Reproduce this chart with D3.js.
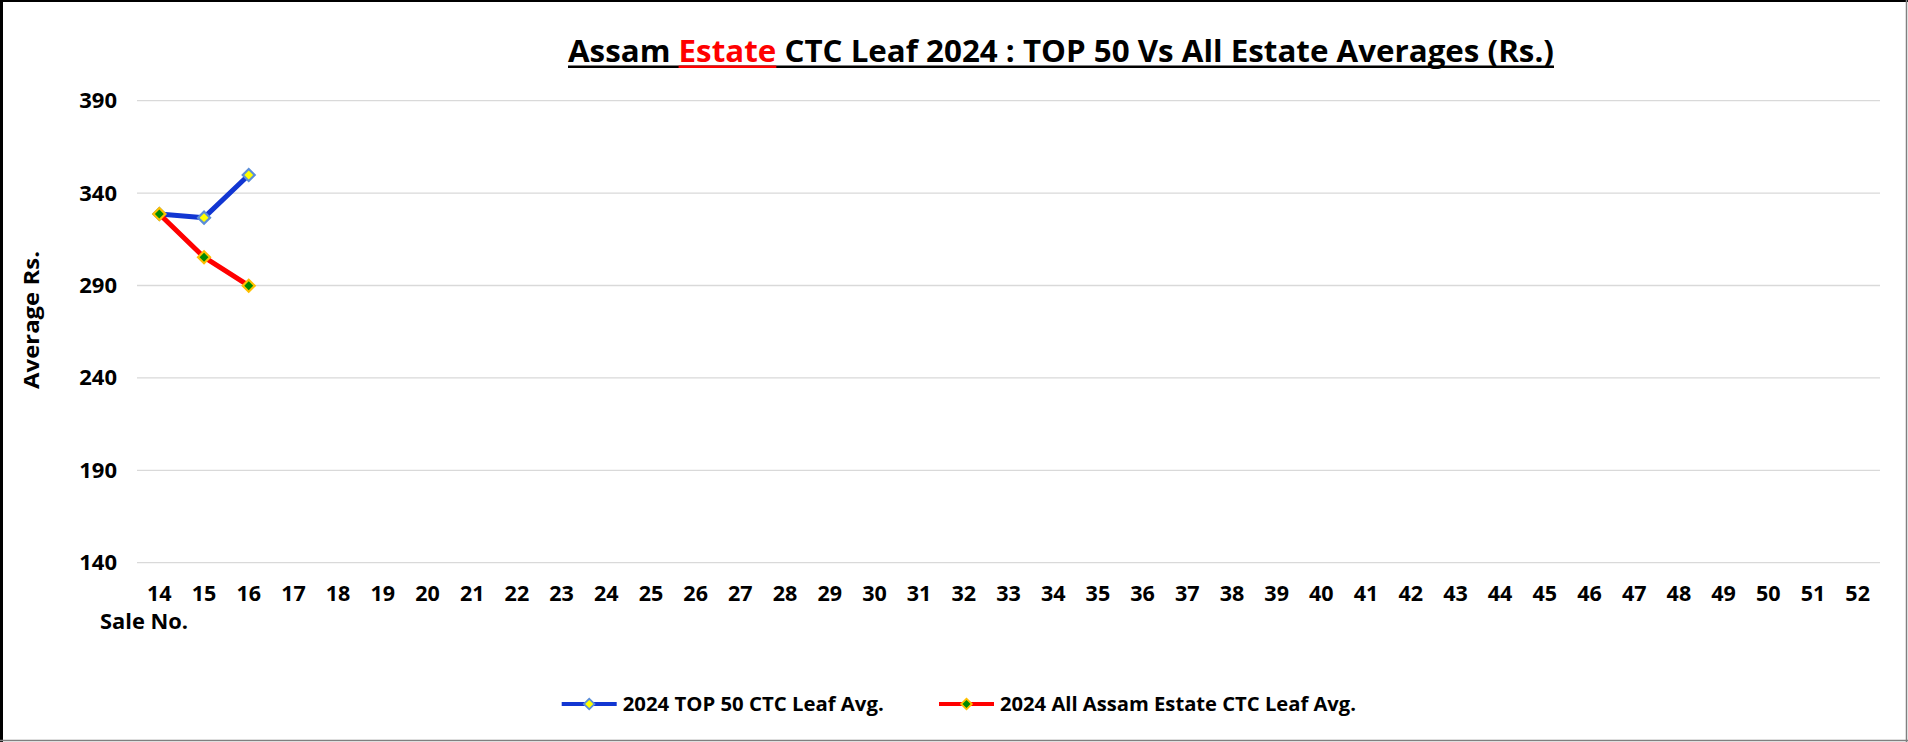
<!DOCTYPE html>
<html>
<head>
<meta charset="utf-8">
<script src="https://cdn.jsdelivr.net/npm/d3@7"></script>
<style>
  body { margin: 0; background: #fff; }
  svg { display: block; }
  text { font-family: "Open Sans", sans-serif; font-weight: 700; fill: #000; }
</style>
</head>
<body>
<div id="viz"></div>
<script>
"use strict";

// sale numbers on the x axis
const saleNos = ["14", "15", "16", "17", "18", "19", "20", "21", "22", "23", "24", "25", "26",
  "27", "28", "29", "30", "31", "32", "33", "34", "35", "36", "37", "38", "39",
  "40", "41", "42", "43", "44", "45", "46", "47", "48", "49", "50", "51", "52"];
const yTicks = [140, 190, 240, 290, 340, 390];

// averages (Rs.), sales 14-16
const top50Avg = [328.7, 326.7, 349.8];
const allEstateAvg = [328.7, 305.3, 289.9];

const seriesNames = ["2024 TOP 50 CTC Leaf Avg.", "2024 All Assam Estate CTC Leaf Avg."];

const w = 1908;
const h = 742;

const svg = d3.select("#viz")
  .append("svg")
  .attr("width", w)
  .attr("height", h)

svg.append("rect")
  .attr("width", w)
  .attr("height", h)
  .attr("fill", "#fff")

const x = d3.scaleBand()
  .domain(saleNos)
  .range([137, 1880])

const y = d3.scaleLinear()
  .domain([140, 390])
  .range([562.7, 100.7])

const series = [
  { name: seriesNames[0], values: top50Avg, stroke: "#1236D2", fill: "#FFFF00", edge: "#5B8ED8" },
  { name: seriesNames[1], values: allEstateAvg, stroke: "#FF0000", fill: "#008A00", edge: "#FFC000" }
]

// gridlines
svg.append("g")
  .selectAll("line")
  .data(yTicks)
  .join("line")
  .attr("x1", 137)
  .attr("x2", 1880)
  .attr("y1", d => y(d))
  .attr("y2", d => y(d))
  .attr("stroke", "#d9d9d9")
  .attr("stroke-width", 1.3)

// y axis
svg.append("g")
  .attr("transform", "translate(137,0)")
  .call(d3.axisLeft(y).tickValues(yTicks).tickSize(0).tickPadding(20))
  .call(g => g.select(".domain").remove())
  .attr("font-family", null)
  .attr("font-size", 22)

// x axis
svg.append("g")
  .attr("transform", `translate(0,${y(140)})`)
  .call(d3.axisBottom(x).tickSize(0))
  .call(g => g.select(".domain").remove())
  .attr("font-family", null)
  .attr("font-size", 21.5)
  .selectAll("text")
  .attr("dy", null)
  .attr("y", 38.5)

// axis titles
svg.append("text")
  .attr("transform", "translate(38.5,320) rotate(-90)")
  .attr("text-anchor", "middle")
  .attr("font-size", 22)
  .attr("textLength", 138)
  .attr("lengthAdjust", "spacingAndGlyphs")
  .text("Average Rs.")

svg.append("text")
  .attr("x", 100)
  .attr("y", 628.5)
  .attr("font-size", 22)
  .attr("textLength", 88)
  .attr("lengthAdjust", "spacingAndGlyphs")
  .text("Sale No.")

// lines and markers
const line = d3.line()
  .x((d, i) => x(saleNos[i]) + x.bandwidth() / 2)
  .y(d => y(d))

const marker = d3.symbol(d3.symbolSquare, 72)

series.forEach(s => {
  const g = svg.append("g")
  g.append("path")
    .attr("d", line(s.values))
    .attr("fill", "none")
    .attr("stroke", s.stroke)
    .attr("stroke-width", 5)
    .attr("stroke-linejoin", "round")
  g.selectAll("path.pt")
    .data(s.values)
    .join("path")
    .attr("class", "pt")
    .attr("d", marker)
    .attr("transform", (d, i) => `translate(${x(saleNos[i]) + x.bandwidth() / 2},${y(d)}) rotate(45)`)
    .attr("fill", s.fill)
    .attr("stroke", s.edge)
    .attr("stroke-width", 2.2)
})

// title
const titleParts = ["Assam ", "Estate", " CTC Leaf 2024 : TOP 50 Vs All Estate Averages (Rs.)"]
const titleW = 986
const title = svg.append("g")
  .attr("transform", "translate(568,61.7)")
const titleText = title.append("text")
  .attr("font-size", 30)
titleText.selectAll("tspan")
  .data(titleParts)
  .join("tspan")
  .attr("fill", (d, i) => i === 1 ? "#FF0000" : "#000")
  .text(d => d)
const tnode = titleText.node()
const natural = tnode.getComputedTextLength()
const preLen = tnode.getSubStringLength(0, titleParts[0].length)
const estLen = tnode.getSubStringLength(titleParts[0].length, titleParts[1].length)
const k = titleW / natural
titleText.attr("textLength", titleW).attr("lengthAdjust", "spacingAndGlyphs")
title.append("line")
  .attr("x1", 0).attr("x2", titleW)
  .attr("y1", 5).attr("y2", 5)
  .attr("stroke", "#000").attr("stroke-width", 2.5)
title.append("line")
  .attr("x1", preLen * k).attr("x2", (preLen + estLen) * k)
  .attr("y1", 5).attr("y2", 5)
  .attr("stroke", "#FF0000").attr("stroke-width", 2.5)

// legend
const legendX = [561.7, 939]
const legendTextW = [261, 356]
const legend = svg.append("g")
  .selectAll("g")
  .data(series)
  .join("g")
  .attr("transform", (d, i) => `translate(${legendX[i]},704)`)
legend.append("line")
  .attr("x1", 0).attr("x2", 55)
  .attr("stroke", d => d.stroke)
  .attr("stroke-width", 4)
legend.append("path")
  .attr("d", d3.symbol(d3.symbolSquare, 56))
  .attr("transform", "translate(27.5,0) rotate(45)")
  .attr("fill", d => d.fill)
  .attr("stroke", d => d.edge)
  .attr("stroke-width", 1.8)
legend.append("text")
  .attr("x", 61)
  .attr("y", 7)
  .attr("font-size", 20)
  .attr("textLength", (d, i) => legendTextW[i])
  .attr("lengthAdjust", "spacingAndGlyphs")
  .text(d => d.name)

// frame
svg.append("line").attr("x1", 1.5).attr("x2", 1.5).attr("y1", 0).attr("y2", h)
  .attr("stroke", "#000").attr("stroke-width", 3)
svg.append("line").attr("x1", 0).attr("x2", w).attr("y1", 1).attr("y2", 1)
  .attr("stroke", "#000").attr("stroke-width", 2)
svg.append("line").attr("x1", w - 1.5).attr("x2", w - 1.5).attr("y1", 0).attr("y2", h)
  .attr("stroke", "#808080").attr("stroke-width", 1.5)
svg.append("line").attr("x1", 0).attr("x2", w).attr("y1", h - 1.5).attr("y2", h - 1.5)
  .attr("stroke", "#808080").attr("stroke-width", 1.5)
</script>
</body>
</html>
